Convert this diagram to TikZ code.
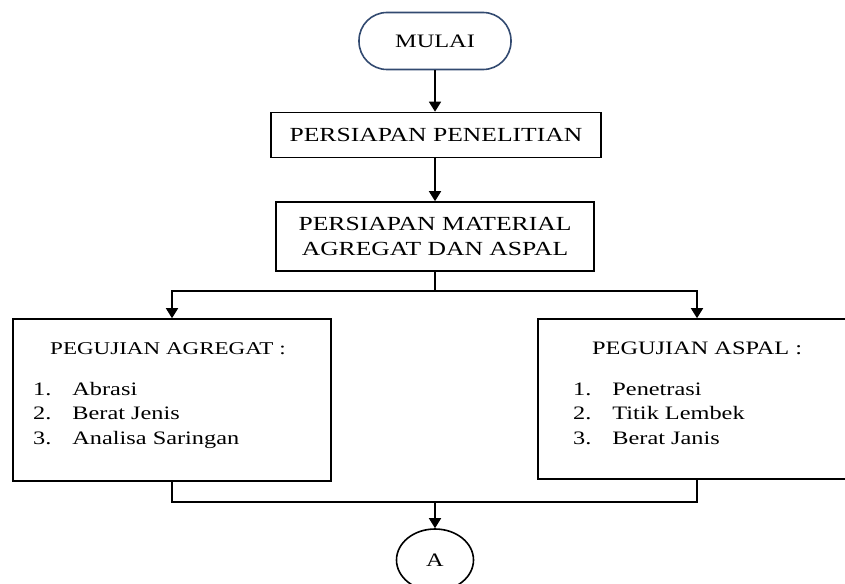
\documentclass[tikz,border=0pt]{standalone}
\usepackage{fontspec}
\setmainfont{Liberation Serif}[FakeStretch=1.28]
\usetikzlibrary{arrows.meta,shapes.geometric}
\definecolor{termblue}{RGB}{50,74,112}
\begin{document}
\begin{tikzpicture}[x=1pt,y=-1pt,
  box/.style={draw, line width=1.6pt, inner sep=0pt},
  arr/.style={-{Triangle[length=10pt,width=12pt]}, line width=1.6pt},
  line/.style={line width=1.6pt},
  txt/.style={inner sep=0pt, font=\fontsize{19}{24.5}\selectfont}]
  \useasboundingbox (0,0) rectangle (845,583);

  % top of the chart
  \node[box, draw=termblue, rounded corners=28pt, minimum width=152pt, minimum height=57pt,
        font=\fontsize{19}{24}\selectfont] (mulai) at (435,41) {MULAI};
  \node[box, minimum width=330pt, minimum height=45pt,
        font=\fontsize{20}{25}\selectfont] (penelitian) at (436,135) {PERSIAPAN PENELITIAN};
  \node[box, minimum width=318pt, minimum height=69pt, align=center,
        font=\fontsize{20}{25}\selectfont] (material) at (435,236.5) {PERSIAPAN MATERIAL\\AGREGAT DAN ASPAL};

  % the two test boxes
  \node[box, minimum width=318pt, minimum height=162pt] (agregat) at (172,400) {};
  \node[box, minimum width=318pt, minimum height=160pt] (aspal) at (697,399) {};

  \node[txt, anchor=base west, font=\fontsize{18}{24}\selectfont] (agregatjudul) at (50,354.5) {PEGUJIAN AGREGAT :};
  \node[txt, anchor=base west] (agregatlist) at (33,395)
    {\begin{tabular}[t]{@{}l@{\hspace{21pt}}l@{}}1. & Abrasi\\ 2. & Berat Jenis\\ 3. & Analisa Saringan\end{tabular}};
  \node[txt, anchor=base west] (aspaljudul) at (592,354.5) {PEGUJIAN ASPAL :};
  \node[txt, anchor=base west] (aspallist) at (573,395)
    {\begin{tabular}[t]{@{}l@{\hspace{21pt}}l@{}}1. & Penetrasi\\ 2. & Titik Lembek\\ 3. & Berat Janis\end{tabular}};

  \node[ellipse, draw, line width=1.6pt, minimum width=77pt, minimum height=62pt,
        font=\fontsize{19}{22}\selectfont] (konektor) at (435,560) {A};

  \coordinate (split) at (435,291);
  \coordinate (join) at (435,502);

  % connectors
  \draw[arr] (mulai.south) -- (mulai.south |- penelitian.north);
  \draw[arr] (mulai.south |- penelitian.south) -- (material.north);
  \draw[line] (material.south) -- (split);
  \draw[arr] (split) -| (agregat.north);
  \draw[arr] (split) -| (aspal.north);
  \draw[line] (agregat.south) |- (join);
  \draw[line] (aspal.south) |- (join);
  \draw[arr] (join) -- (konektor);

\end{tikzpicture}
\end{document}
